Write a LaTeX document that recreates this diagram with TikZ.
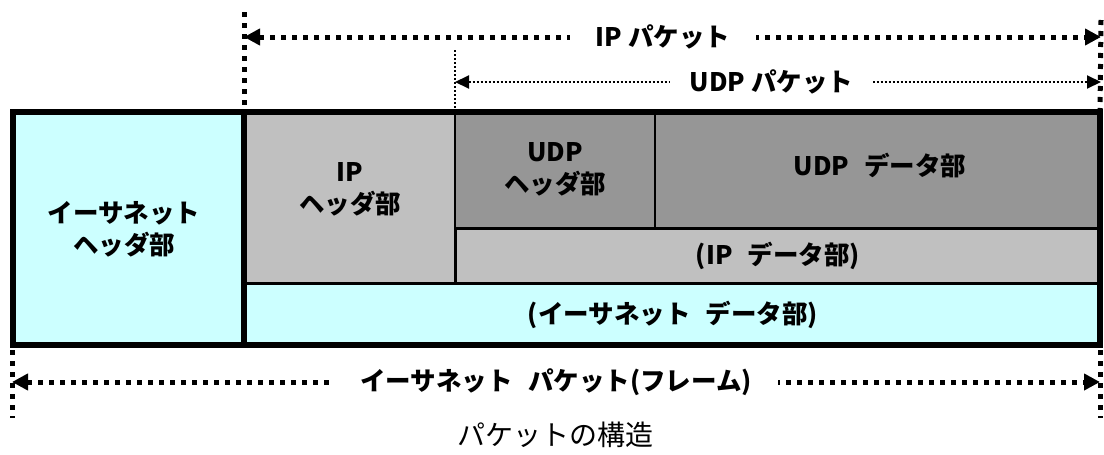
\documentclass[tikz,border=0pt]{standalone}
\usepackage{fontspec}
\setmainfont{Noto Sans CJK JP}
\usepackage{xcolor}
\usepackage{tikz}
\usetikzlibrary{arrows.meta}
\definecolor{ethcyan}{HTML}{CCFFFF}
\definecolor{iplight}{HTML}{C0C0C0}
\definecolor{udpdark}{HTML}{969696}
\newcommand{\wsp}{\hspace{0.6em}}

\begin{document}
\begin{tikzpicture}[x=1pt, y=-1pt,%
	base/.style={draw=black, align=center, anchor=north west, inner sep=0pt, outer sep=0pt,
		font=\fontsize{25.5}{32}\selectfont\bfseries},
	ethbox/.style={base, fill=ethcyan},
	ipbox/.style={base, fill=iplight},
	udpbox/.style={base, fill=udpdark},
	bigdots/.style={line width=5pt, dash pattern=on 5pt off 6pt},
	smalldots/.style={line width=2pt, dash pattern=on 2pt off 2pt},
	bigarrow/.style={bigdots, {Triangle[length=16pt,width=16pt]}-{Triangle[length=16pt,width=16pt]}},
	smallarrow/.style={smalldots, {Triangle[length=14pt,width=13pt]}-{Triangle[length=14pt,width=13pt]}},
	lbl/.style={fill=white, inner xsep=26pt, font=\fontsize{25.5}{32}\selectfont\bfseries}%
	]
	\useasboundingbox (0,0) rectangle (1104,455);
	%
	% Boxes
	%
	\node[ethbox, line width=6pt, minimum width=231pt, minimum height=233pt] (ETHHEAD) at (13,112) {};
	\node[ipbox, line width=3pt, minimum width=211pt, minimum height=171pt] (IPHEAD) at (244,112) {};
	\node[udpbox, line width=1.5pt, minimum width=200pt, minimum height=116pt] (UDPHEAD) at (455,112) {};
	\node[udpbox, line width=1.5pt, minimum width=445pt, minimum height=116pt] (UDPDATA) at (655,112) {};
	\node[ipbox, line width=3pt, minimum width=645pt, minimum height=55pt] (IPDATA) at (455,228) {};
	\node[ethbox, line width=3pt, minimum width=856pt, minimum height=62pt] (ETHDATA) at (244,283) {};
	\draw[line width=6pt] (ETHHEAD.north west) rectangle (ETHDATA.south east);
	\draw[line width=6pt] (ETHHEAD.north east) -- (ETHHEAD.south east);
	%
	% Texts
	%
	\node[base, draw=none, anchor=center] (ETHHEADTXT) at (124,229) {イーサネット\\ヘッダ部};
	\node[base, draw=none, anchor=center] (IPHEADTXT) at (350,189) {IP\\ヘッダ部};
	\node[base, draw=none, anchor=center] (UDPHEADTXT) at (555,169) {UDP\\ヘッダ部};
	\node[base, draw=none, anchor=center] (UDPDATATXT) at (880,166) {UDP\wsp データ部};
	\node[base, draw=none, anchor=center] (IPDATATXT) at (778,256) {(IP\wsp データ部)};
	\node[base, draw=none, anchor=center] (ETHDATATXT) at (673,315) {(イーサネット\wsp データ部)};
	%
	% Range marks
	%
	\coordinate (IPTOP) at (244,12);
	\coordinate (IPL) at (244,37);
	\coordinate (IPR) at (1101,37);
	\coordinate (IPRTOP) at (1101,20);
	\coordinate (UDPTOP) at (455,50);
	\coordinate (UDPL) at (455,82);
	\coordinate (UDPR) at (1101,82);
	\coordinate (ETHLTOP) at (12,350);
	\coordinate (ETHLBOT) at (12,418);
	\coordinate (ETHL) at (12,382);
	\coordinate (ETHR) at (1100,382);
	\coordinate (ETHRTOP) at (1100,350);
	\coordinate (ETHRBOT) at (1100,418);
	\draw[bigdots] (IPTOP) -- (ETHHEAD.north east);
	\draw[bigdots] (IPRTOP) -- (UDPDATA.north east);
	\draw[smalldots, line width=1.5pt] (UDPTOP) -- (UDPHEAD.north west);
	\draw[bigdots] (ETHLTOP) -- (ETHLBOT);
	\draw[bigdots] (ETHRTOP) -- (ETHRBOT);
	\path[bigarrow] (IPL) edge node[lbl, pos=0.489] {IP パケット} (IPR);
	\path[smallarrow] (UDPL) edge node[lbl, inner xsep=20pt, pos=0.49] {UDP パケット} (UDPR);
	\path[bigarrow] (ETHL) edge node[lbl, midway] {イーサネット\wsp パケット(フレーム)} (ETHR);
	%
	% Caption
	%
	\node[font=\fontsize{28}{32}\selectfont] (CAPTION) at (555,435) {パケットの構造};
\end{tikzpicture}
\end{document}
